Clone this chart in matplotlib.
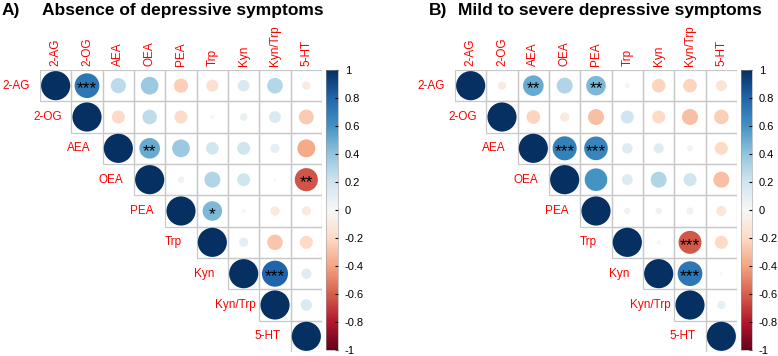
import numpy as np
import matplotlib
matplotlib.use("Agg")
import matplotlib.pyplot as plt
from matplotlib.patches import Circle, Rectangle
from matplotlib.cm import ScalarMappable
from matplotlib.colors import Normalize

plt.rcParams['font.family'] = ['Liberation Sans', 'DejaVu Sans']

labels = ['2-AG', '2-OG', 'AEA', 'OEA', 'PEA', 'Trp', 'Kyn', 'Kyn/Trp', '5-HT']

# upper triangle, row by row (diagonal = 1 left out)
r_absence = [
    [0.72, 0.27, 0.37, -0.24, -0.17, 0.16, 0.29, -0.08],
    [-0.2, 0.25, -0.2, -0.02, 0.07, 0.16, -0.26],
    [0.5, 0.37, 0.19, 0.2, 0.1, -0.38],
    [0.05, 0.3, 0.2, 0.01, -0.63],
    [0.45, 0.02, -0.1, -0.1],
    [0.1, -0.28, -0.2],
    [0.8, 0.12],
    [0.15],
]
sig_absence = [(0, 1, '***'), (2, 3, '**'), (3, 8, '**'), (4, 5, '*'), (6, 7, '***')]

r_mild = [
    [-0.08, 0.5, 0.3, 0.45, 0.03, -0.22, -0.22, -0.14],
    [-0.22, -0.1, -0.3, 0.2, -0.2, -0.3, -0.25],
    [0.68, 0.66, 0.13, 0.12, -0.04, -0.2],
    [0.6, 0.14, 0.3, 0.2, -0.3],
    [0.05, 0.05, 0.06, -0.12],
    [0.02, -0.62, -0.2],
    [0.72, 0.01],
    [0.08],
]
sig_mild = [(0, 2, '**'), (0, 4, '**'), (2, 3, '***'), (2, 4, '***'), (5, 7, '***'), (6, 7, '***')]

W, H = 778, 356
fig = plt.figure(figsize=(W / 100, H / 100), dpi=100)
cmap = plt.get_cmap('RdBu')
norm = Normalize(-1, 1)
n = len(labels)


def px_axes(x0, y0, x1, y1):
    return fig.add_axes([x0 / W, 1 - y1 / H, (x1 - x0) / W, (y1 - y0) / H])


def corr_panel(ax, rows, sig):
    mat = np.eye(n)
    for i, row in enumerate(rows):
        for k, v in enumerate(row):
            mat[i, i + 1 + k] = v
    for i in range(n):
        for j in range(i, n):
            ax.add_patch(Rectangle((j, i), 1, 1, fill=False, ec='#c8c8c8', lw=0.9))
    for i in range(n):
        for j in range(i, n):
            v = mat[i, j]
            ax.add_patch(Circle((j + 0.5, i + 0.5), 0.465 * np.sqrt(abs(v)),
                                color=cmap(norm(v)), lw=0))
    for i, j, s in sig:
        ax.text(j + 0.5, i + 0.6, s, ha='center', va='center', fontsize=12.5, color='black')
    for k, lab in enumerate(labels):
        ax.text(k + 0.5, -0.12, lab, rotation=90, ha='center', va='bottom',
                color='red', fontsize=8.5)
        ax.text(k - 0.75, k + 0.5, lab, ha='center', va='center', color='red', fontsize=8.5)
    ax.set_xlim(0, n)
    ax.set_ylim(n, 0)
    ax.axis('off')


def colorbar(cax):
    cb = fig.colorbar(ScalarMappable(norm=norm, cmap=cmap), cax=cax)
    ticks = np.round(np.linspace(-1, 1, 11), 1)
    cb.set_ticks(ticks)
    cb.set_ticklabels(['%g' % t for t in ticks])
    cax.tick_params(direction='in', length=2, width=0.8, labelsize=8, pad=5, colors='black')
    cb.outline.set_linewidth(0.4)
    cb.outline.set_edgecolor('#999999')


ax1 = px_axes(40, 70, 322, 352)
corr_panel(ax1, r_absence, sig_absence)
colorbar(px_axes(326, 70, 338, 350))

ax2 = px_axes(455, 70, 737, 352)
corr_panel(ax2, r_mild, sig_mild)
colorbar(px_axes(741, 70, 752, 350))

fig.text(2 / W, 1 - 15 / H, 'A)', fontsize=12.5, fontweight='bold', va='baseline')
fig.text(42 / W, 1 - 15 / H, 'Absence of depressive symptoms', fontsize=12.5,
         fontweight='bold', va='baseline')
fig.text(429 / W, 1 - 15 / H, 'B)', fontsize=12.5, fontweight='bold', va='baseline')
fig.text(458 / W, 1 - 15 / H, 'Mild to severe depressive symptoms', fontsize=12.5,
         fontweight='bold', va='baseline')

fig.savefig('out.png', dpi=100)
